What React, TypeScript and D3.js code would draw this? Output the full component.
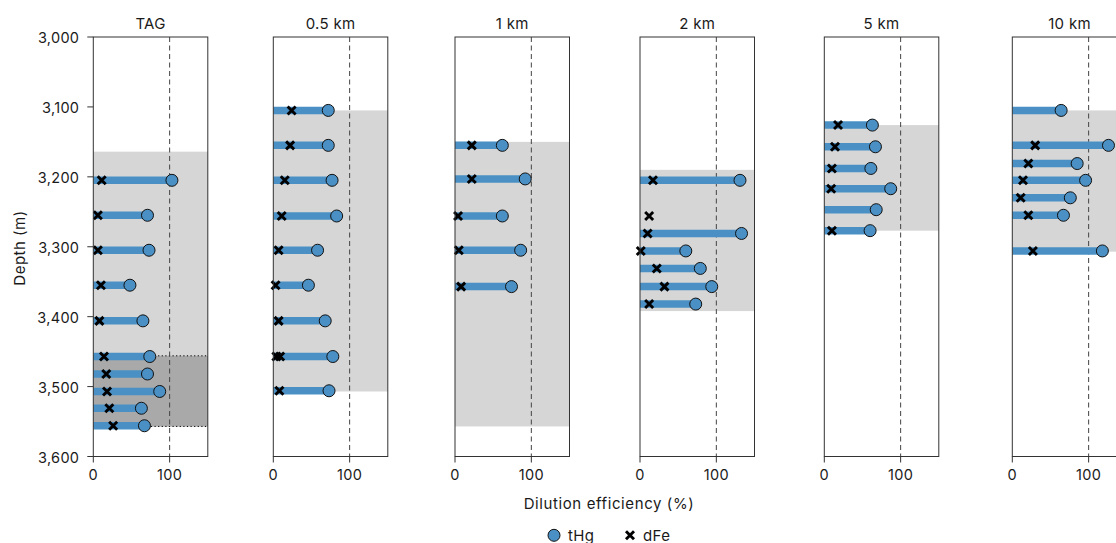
import React from "react";
import * as d3 from "d3";

// ---------- data ----------
const panelNames = ["TAG", "0.5 km", "1 km", "2 km", "5 km", "10 km"];

const tagDepth = [3205, 3255, 3305, 3355, 3406, 3457, 3482, 3507, 3531, 3556];
const tagHg = [103, 71, 73, 48, 65, 74, 71, 87, 63, 67];
const tagFe = [11, 6, 6, 10, 8, 14, 17, 18, 21, 26];

const km05Depth = [3105, 3155, 3205, 3256, 3305, 3355, 3406, 3457, 3506];
const km05Hg = [72, 72, 77, 83, 58, 46, 68, 78, 73];
const km05Fe = [24, 22, 15, 11, 7, 3, 7, 4, 8];
const km05FeExtraDepth = [3457];
const km05FeExtra = [9];

const km1Depth = [3155, 3203, 3256, 3305, 3357];
const km1Hg = [62, 92, 62, 86, 74];
const km1Fe = [22, 22, 4, 5, 8];

const km2Depth = [3205, 3256, 3281, 3306, 3331, 3357, 3382];
const km2Hg = [131, null, 133, 60, 79, 94, 73];
const km2Fe = [17, 12, 10, 1, 22, 32, 12];

const km5Depth = [3126, 3157, 3188, 3217, 3247, 3277];
const km5Hg = [63, 67, 61, 87, 68, 60];
const km5Fe = [18, 14, 10, 9, null, 10];

const km10Depth = [3105, 3155, 3181, 3205, 3230, 3255, 3306];
const km10Hg = [64, 126, 85, 96, 76, 67, 118];
const km10Fe = [null, 30, 21, 14, 11, 21, 27];

const plumeTop = [3164, 3105, 3150, 3190, 3126, 3105];
const plumeBottom = [3557, 3507, 3557, 3392, 3277, 3307];
const coreTop = 3456;
const coreBottom = 3557;

const depthTicks = [3000, 3100, 3200, 3300, 3400, 3500, 3600];
const effTicks = [0, 100];

const panelDepths = [tagDepth, km05Depth, km1Depth, km2Depth, km5Depth, km10Depth];
const panelHg = [tagHg, km05Hg, km1Hg, km2Hg, km5Hg, km10Hg];
const panelFe = [tagFe, km05Fe, km1Fe, km2Fe, km5Fe, km10Fe];

// ---------- layout ----------
const W = 1116;
const H = 543;
const panelLeft = [93.3, 273.3, 455, 640, 824.3, 1012.3];
const panelW = 114.5;
const top = 37;
const bottom = 456.5;
const FONT = "Inter, 'Noto Sans', sans-serif";
const BLUE = "#4a90c5";
const TXT = "#1a1a1a";

const y = d3.scaleLinear().domain([3000, 3600]).range([top, bottom]);
const x = d3.scaleLinear().domain([0, 150]).range([0, panelW]);

function Cross({ cx, cy }: { cx: number; cy: number }) {
  const s = 4;
  return (
    <path
      d={`M${cx - s},${cy - s}L${cx + s},${cy + s}M${cx - s},${cy + s}L${cx + s},${cy - s}`}
      stroke="#000"
      strokeWidth={2.9}
      strokeLinecap="butt"
    />
  );
}

function Panel({ i }: { i: number }) {
  const left = panelLeft[i];
  const depths = panelDepths[i];
  const hg = panelHg[i];
  const fe = panelFe[i];
  return (
    <g transform={`translate(${left},0)`}>
      <rect
        x={0}
        y={y(plumeTop[i])}
        width={panelW}
        height={y(plumeBottom[i]) - y(plumeTop[i])}
        fill="#d6d6d6"
      />
      {i === 0 && (
        <g>
          <rect
            x={0}
            y={y(coreTop)}
            width={panelW}
            height={y(coreBottom) - y(coreTop)}
            fill="#a9a9a9"
          />
          <line x1={0} x2={panelW} y1={y(coreTop)} y2={y(coreTop)} stroke="#000" strokeWidth={1} strokeDasharray="1.2,2.4" />
          <line x1={0} x2={panelW} y1={y(coreBottom)} y2={y(coreBottom)} stroke="#000" strokeWidth={1} strokeDasharray="1.2,2.4" />
        </g>
      )}
      <line x1={x(100)} x2={x(100)} y1={top} y2={bottom} stroke="#444" strokeWidth={1} strokeDasharray="5,3.5" />
      {depths.map((d, k) =>
        hg[k] == null ? null : (
          <line key={"b" + k} x1={x(0)} x2={x(hg[k] as number)} y1={y(d)} y2={y(d)} stroke={BLUE} strokeWidth={7.5} />
        )
      )}
      {depths.map((d, k) =>
        hg[k] == null ? null : (
          <circle key={"c" + k} cx={x(hg[k] as number)} cy={y(d)} r={6} fill={BLUE} stroke="#111" strokeWidth={1} />
        )
      )}
      {depths.map((d, k) =>
        fe[k] == null ? null : <Cross key={"x" + k} cx={x(fe[k] as number)} cy={y(d)} />
      )}
      {i === 1 &&
        km05FeExtraDepth.map((d, k) => <Cross key={"xe" + k} cx={x(km05FeExtra[k])} cy={y(d)} />)}
      <rect x={0} y={top} width={panelW} height={bottom - top} fill="none" stroke="#333" strokeWidth={1} />
      {effTicks.map((t) => (
        <g key={t} transform={`translate(${x(t)},${bottom})`}>
          <line y1={0} y2={6} stroke="#333" strokeWidth={1} />
          <text y={23} textAnchor="middle" fontSize={14.5} letterSpacing={0.3} fill={TXT} fontFamily={FONT}>
            {t}
          </text>
        </g>
      ))}
      <text x={panelW / 2} y={28.5} textAnchor="middle" fontSize={15} letterSpacing={0.3} fill={TXT} fontFamily={FONT}>
        {panelNames[i]}
      </text>
    </g>
  );
}

export default function App() {
  const fmt = d3.format(",");
  return (
    <svg width={W} height={H} style={{ position: "absolute", left: 0, top: 0, background: "#fff" }}>
      {panelNames.map((_, i) => (
        <Panel key={i} i={i} />
      ))}
      <g transform={`translate(${panelLeft[0]},0)`}>
        {depthTicks.map((t) => (
          <g key={t} transform={`translate(0,${y(t)})`}>
            <line x1={-6} x2={0} stroke="#333" strokeWidth={1} />
            <text x={-14} y={6} textAnchor="end" fontSize={14.5} letterSpacing={0.3} fill={TXT} fontFamily={FONT}>
              {fmt(t)}
            </text>
          </g>
        ))}
      </g>
      <text
        transform={`translate(25,248) rotate(-90)`}
        textAnchor="middle"
        fontSize={15}
        letterSpacing={0.5}
        fill={TXT}
        fontFamily={FONT}
      >
        Depth (m)
      </text>
      <text x={609} y={509} textAnchor="middle" fontSize={15} letterSpacing={0.6} fill={TXT} fontFamily={FONT}>
        Dilution efficiency (%)
      </text>
      <g>
        <circle cx={554} cy={535.3} r={6} fill={BLUE} stroke="#111" strokeWidth={1} />
        <text x={568} y={540.5} fontSize={15} letterSpacing={0.4} fill={TXT} fontFamily={FONT}>
          tHg
        </text>
        <Cross cx={630} cy={535.3} />
        <text x={643} y={540.5} fontSize={15} letterSpacing={0.4} fill={TXT} fontFamily={FONT}>
          dFe
        </text>
      </g>
    </svg>
  );
}
